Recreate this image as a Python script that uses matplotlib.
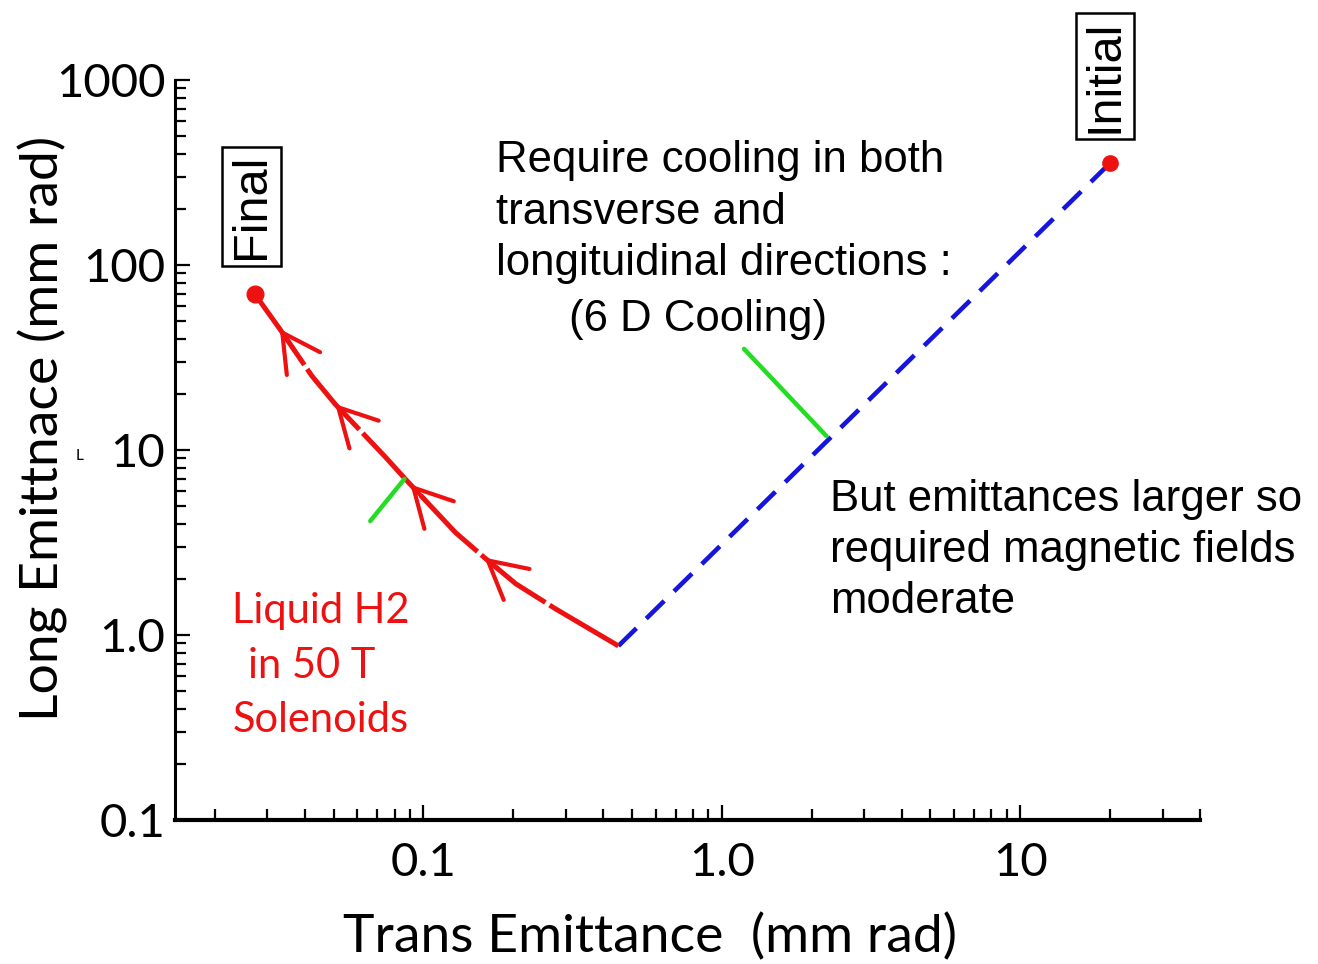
import numpy as np
import matplotlib
matplotlib.use("Agg")
import matplotlib.pyplot as plt
from matplotlib.ticker import LogLocator, NullFormatter, FixedLocator, FixedFormatter

# ---- data ----
trans_red = [0.450, 0.278, 0.204, 0.160, 0.128, 0.0869, 0.0745, 0.0506, 0.0423, 0.0330, 0.0272]
long_red = [0.873, 1.38, 1.89, 2.62, 3.58, 6.97, 9.17, 17.7, 25.1, 45.1, 69.7]
trans_blue = [0.450, 20.0]
long_blue = [0.873, 356.0]
final_pt = (0.0272, 69.7)
initial_pt = (20.0, 356.0)
arrow_tips_x = [0.0330, 0.0506, 0.0904, 0.160]
green1 = ([1.186, 2.24], [35.2, 11.9])
green2 = ([0.0663, 0.0863], [4.13, 6.97])
x_ticks = [0.1, 1.0, 10.0]
x_ticklabels = ["0.1", "1.0", "10"]
y_ticks = [0.1, 1.0, 10.0, 100.0, 1000.0]
y_ticklabels = ["0.1", "1.0", "10", "100", "1000"]

RED = "#ee1111"
BLUE = "#1515dd"
GREEN = "#22dd22"
W, H = 1318, 964

fig = plt.figure(figsize=(W / 100, H / 100), dpi=100)
ax = fig.add_axes([175 / W, 144 / H, 1025 / W, 740 / H])
ax.set_xscale("log")
ax.set_yscale("log")
ax.set_xlim(0.0147, 40)
ax.set_ylim(0.1, 1000)

for s in ("top", "right"):
    ax.spines[s].set_visible(False)
ax.spines["left"].set_linewidth(2.2)
ax.spines["bottom"].set_linewidth(3)

ax.xaxis.set_major_locator(FixedLocator(x_ticks))
ax.xaxis.set_major_formatter(FixedFormatter(x_ticklabels))
ax.yaxis.set_major_locator(FixedLocator(y_ticks))
ax.yaxis.set_major_formatter(FixedFormatter(y_ticklabels))
ax.xaxis.set_minor_locator(LogLocator(base=10, subs=np.arange(2, 10), numticks=20))
ax.yaxis.set_minor_locator(LogLocator(base=10, subs=np.arange(2, 10), numticks=20))
ax.xaxis.set_minor_formatter(NullFormatter())
ax.yaxis.set_minor_formatter(NullFormatter())
ax.tick_params(which="both", direction="in", width=1.6, color="black")
ax.tick_params(which="major", length=11)
ax.tick_params(which="minor", length=8)
ax.tick_params(axis="x", which="major", pad=16, labelsize=34)
ax.tick_params(axis="y", which="major", pad=7, labelsize=34)
for lab in ax.get_xticklabels() + ax.get_yticklabels():
    lab.set_family("Lato")

# blue dashed line
ax.plot(trans_blue, long_blue, color=BLUE, lw=3.3, dashes=(5.5, 3), dash_capstyle="butt", zorder=3)
# red curve
ax.plot(trans_red, long_red, color=RED, lw=3.6, dashes=(16, 1.0), solid_capstyle="round",
        solid_joinstyle="round", dash_joinstyle="round", zorder=4)

# arrow heads along red curve
lx = np.log10(trans_red[::-1])
ly = np.log10(long_red[::-1])
for tx in arrow_tips_x:
    ty = 10 ** np.interp(np.log10(tx), lx, ly)
    tailx = tx * 1.12
    taily = 10 ** np.interp(np.log10(tailx), lx, ly)
    ax.annotate("", xy=(tx, ty), xytext=(tailx, taily),
                arrowprops=dict(arrowstyle="->,head_length=2.7,head_width=1.45",
                                color=RED, lw=3.0, shrinkA=0, shrinkB=0,
                                mutation_scale=10), zorder=5)

# end points
ax.plot(*final_pt, "o", color=RED, ms=12, zorder=6)
ax.plot(*initial_pt, "o", color=RED, ms=11, zorder=6)

# green pointer lines
ax.plot(*green1, color=GREEN, lw=3.2, solid_capstyle="round", zorder=5)
ax.plot(*green2, color=GREEN, lw=3.2, solid_capstyle="round", zorder=5)

# boxed labels
box = dict(boxstyle="square,pad=0.14", fc="white", ec="black", lw=1.8)
ax.text(0.0265, 208, "Final", rotation=90, ha="center", va="center",
        fontsize=35, family="Liberation Sans", bbox=box, clip_on=False)
ax.text(19.2, 1051, "Initial", rotation=90, ha="center", va="center",
        fontsize=35, family="Liberation Sans", bbox=box, clip_on=False)

def fx(px):
    return px / W

def fy(py):
    return 1 - py / H

# annotation text blocks
req_lines = ["Require cooling in both", "transverse and", "longituidinal directions :"]
for i, t in enumerate(req_lines):
    fig.text(fx(496), fy(172 + i * 51.5), t, fontsize=31.5, family="Liberation Sans",
             ha="left", va="baseline")
fig.text(fx(569), fy(331), "(6 D Cooling)", fontsize=31.5, family="Liberation Sans",
         ha="left", va="baseline")

but_lines = ["But emittances larger so", "required magnetic fields", "moderate"]
for i, t in enumerate(but_lines):
    fig.text(fx(830), fy(511 + i * 51), t, fontsize=31.5, family="Liberation Sans",
             ha="left", va="baseline")

red_lines = [("Liquid H2", 321), ("in 50 T", 312), ("Solenoids", 321)]
for i, (t, cx) in enumerate(red_lines):
    fig.text(fx(cx), fy(623 + i * 54.5), t, fontsize=30, family="Lato", color=RED,
             ha="center", va="baseline")

# axis labels
fig.text(fx(650), fy(952), "Trans Emittance  (mm rad)", fontsize=38.5, family="Lato",
         ha="center", va="baseline")
fig.text(fx(43), fy(428), "Long Emittnace (mm rad)", fontsize=38.5, family="Lato",
         ha="center", va="center", rotation=90)
fig.text(fx(80), fy(456), "L", fontsize=11, family="Lato", ha="center", va="center")

fig.savefig("out.png", dpi=100, facecolor="white")
